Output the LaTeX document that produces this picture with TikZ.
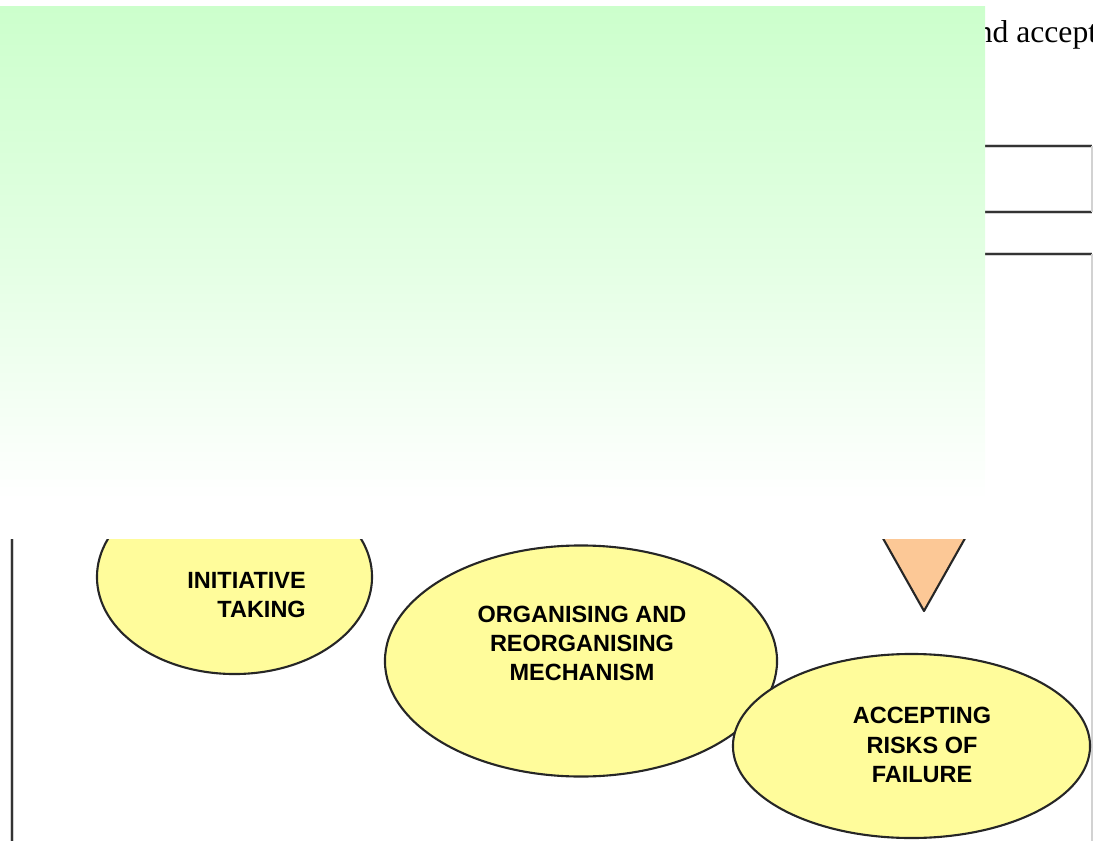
\documentclass[tikz,border=0pt]{standalone}
\usepackage{fontspec}
\setmainfont{Liberation Serif}
\newfontfamily\bubblefont{Liberation Sans}
\usetikzlibrary{shapes.geometric}

\definecolor{paleyellow}{RGB}{255,252,155}
\definecolor{peach}{RGB}{252,200,150}
\definecolor{mint}{RGB}{204,255,204}

\begin{document}
\begin{tikzpicture}[
    x=0.025cm, y=-0.025cm,
    bubble/.style={
        ellipse,
        draw=black!85,
        fill=paleyellow,
        line width=1.5pt,
        inner sep=0pt
    },
    bubbletext/.style={
        align=center,
        inner sep=0pt,
        font=\bubblefont\bfseries\fontsize{16.7}{20.9}\selectfont
    },
    frameline/.style={
        draw=black!80,
        line width=1.3pt,
        preaction={draw=gray!35, line width=2.8pt}
    },
    faintline/.style={
        draw=gray!35,
        line width=1.2pt
    }
]
    \useasboundingbox (0,0) rectangle (1093,841);
    \clip (0,0) rectangle (1093,841);

    % --- HEADING TEXT (PARTLY UNDER THE GREEN PANEL) ---
    \node[anchor=base west, inner sep=0pt, font=\fontsize{22.5}{26}\selectfont] (heading) at (976.5,43) {nd accept};

    % --- TOP BOX AND FRAME ---
    \draw[frameline] (960,146) -- (1092,146);
    \draw[frameline] (960,212) -- (1092,212);
    \draw[faintline] (1092,146) -- (1092,212);
    \draw[frameline] (960,254) -- (1092,254);
    \draw[faintline] (1092,254) -- (1092,845);
    \draw[frameline] (12,300) -- (12,845);

    % --- BUBBLES ---
    \node[bubble, minimum width=6.875cm, minimum height=4.85cm] (initiative) at (234.5,577) {};
    \node[bubble, minimum width=9.8cm, minimum height=5.775cm] (organising) at (581,661) {};
    \node[bubble, minimum width=8.925cm, minimum height=4.6cm] (risks) at (911.5,746) {};

    \node[bubbletext, align=right, anchor=east] (initiative_txt) at (306,595) {INITIATIVE\\TAKING};
    \node[bubbletext] (organising_txt) at (582,643.5) {ORGANISING AND\\REORGANISING\\MECHANISM};
    \node[bubbletext] (risks_txt) at (922,745) {ACCEPTING\\RISKS OF\\FAILURE};

    % Pointer above the last bubble
    \draw[fill=peach, draw=black!85, line width=1.5pt, line join=round] (867,510) -- (981,510) -- (924,611) -- cycle;

    % --- GREEN PANEL ON TOP ---
    \shade[top color=mint, bottom color=white, middle color=mint!55] (0,7) rectangle (985,500);
    \fill[white] (0,500) rectangle (985,539);

\end{tikzpicture}
\end{document}
